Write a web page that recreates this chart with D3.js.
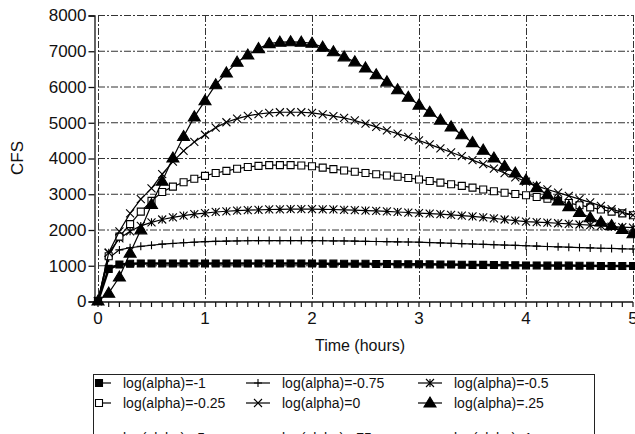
<!DOCTYPE html>
<html>
<head>
<meta charset="utf-8">
<script src="https://cdn.jsdelivr.net/npm/d3@7/dist/d3.min.js"></script>
<style>
  body { margin: 0; background: #fff; }
  svg { display: block; font-family: "Liberation Sans", Arial, sans-serif; }
</style>
</head>
<body>
<svg id="chart" width="635" height="434"></svg>
<script>
// time axis (hours)
const times = [0, 0.1, 0.2, 0.3, 0.4, 0.5, 0.6, 0.7, 0.8, 0.9, 1.0,
  1.1, 1.2, 1.3, 1.4, 1.5, 1.6, 1.7, 1.8, 1.9, 2.0,
  2.1, 2.2, 2.3, 2.4, 2.5, 2.6, 2.7, 2.8, 2.9, 3.0,
  3.1, 3.2, 3.3, 3.4, 3.5, 3.6, 3.7, 3.8, 3.9, 4.0,
  4.1, 4.2, 4.3, 4.4, 4.5, 4.6, 4.7, 4.8, 4.9, 5.0];

// flows (CFS)
const flowM100 = [0, 900, 1020, 1040, 1050, 1050, 1050, 1050, 1050, 1050, 1050,
  1050, 1050, 1050, 1050, 1050, 1050, 1050, 1050, 1050, 1050,
  1045, 1045, 1040, 1040, 1040, 1035, 1035, 1030, 1030, 1030,
  1025, 1020, 1020, 1015, 1010, 1010, 1005, 1000, 1000, 995,
  995, 990, 990, 990, 985, 985, 980, 980, 980, 980];
const flowM075 = [0, 1200, 1430, 1490, 1530, 1560, 1590, 1610, 1630, 1645, 1660,
  1670, 1675, 1680, 1685, 1690, 1690, 1690, 1690, 1690, 1690,
  1685, 1680, 1680, 1675, 1670, 1665, 1660, 1655, 1650, 1645,
  1635, 1625, 1615, 1605, 1595, 1585, 1575, 1565, 1555, 1545,
  1535, 1525, 1515, 1505, 1495, 1485, 1475, 1470, 1460, 1455];
const flowM050 = [0, 1350, 1750, 1950, 2100, 2200, 2280, 2340, 2390, 2430, 2460,
  2490, 2510, 2530, 2540, 2550, 2560, 2565, 2570, 2570, 2570,
  2565, 2560, 2550, 2540, 2530, 2520, 2505, 2490, 2475, 2460,
  2445, 2430, 2410, 2390, 2365, 2340, 2310, 2280, 2250, 2220,
  2205, 2190, 2175, 2160, 2140, 2120, 2100, 2080, 2065, 2050];
const flowM025 = [0, 1250, 1800, 2150, 2500, 2800, 3050, 3200, 3320, 3420, 3500,
  3580, 3640, 3700, 3750, 3780, 3800, 3800, 3800, 3790, 3770,
  3730, 3690, 3650, 3615, 3580, 3545, 3510, 3475, 3440, 3400,
  3355, 3310, 3265, 3220, 3170, 3120, 3070, 3030, 2995, 2960,
  2910, 2860, 2800, 2740, 2680, 2620, 2560, 2500, 2450, 2400];
const flowP000 = [0, 1350, 1950, 2450, 2850, 3150, 3550, 3900, 4200, 4450, 4650,
  4850, 5000, 5100, 5180, 5230, 5260, 5280, 5280, 5280, 5260,
  5220, 5170, 5120, 5050, 4960, 4870, 4770, 4680, 4590, 4490,
  4380, 4270, 4160, 4050, 3940, 3830, 3700, 3580, 3460, 3340,
  3220, 3120, 3030, 2940, 2850, 2760, 2660, 2570, 2480, 2400];
const flowP025 = [0, 220, 670, 1340, 1990, 2700, 3350, 4000, 4600, 5150, 5600,
  6050, 6380, 6680, 6880, 7060, 7200, 7240, 7250, 7240, 7210,
  7100, 6970, 6830, 6690, 6520, 6330, 6130, 5910, 5700, 5480,
  5280, 5060, 4870, 4650, 4430, 4220, 4000, 3770, 3580, 3380,
  3170, 2970, 2800, 2640, 2480, 2330, 2210, 2110, 2000, 1880];

const seriesNames = ["log(alpha)=-1", "log(alpha)=-0.75", "log(alpha)=-0.5",
  "log(alpha)=-0.25", "log(alpha)=0", "log(alpha)=.25"];
const seriesMarkers = ["fsquare", "plus", "star", "osquare", "cross", "triangle"];
const seriesFlows = [flowM100, flowM075, flowM050, flowM025, flowP000, flowP025];

// third legend row, cut off by the bottom of the picture
const extraNames = ["log(alpha)=.5", "log(alpha)=.75", "log(alpha)=1"];
const extraMarkers = ["osquare", "fsquare", "plus"];

const yTicks = [0, 1000, 2000, 3000, 4000, 5000, 6000, 7000, 8000];
const xTicks = [0, 1, 2, 3, 4, 5];
const xMinorTicks = d3.range(0, 51).map(i => i / 10);

const svg = d3.select("#chart");

// scales
const x = d3.scaleLinear().domain([0, 5]).range([98, 633]);
const y = d3.scaleLinear().domain([0, 8000]).range([301, 15]);

// grid
const grid = svg.append("g").attr("stroke", "#333").attr("stroke-width", 1)
  .attr("stroke-dasharray", "7,2,2,2");
grid.selectAll(".hg").data(yTicks.slice(1)).enter().append("line")
  .attr("x1", x(0)).attr("x2", x(5))
  .attr("y1", d => y(d) + 0.5).attr("y2", d => y(d) + 0.5);
grid.selectAll(".vg").data(xTicks).enter().append("line")
  .attr("y1", y(8000)).attr("y2", y(0))
  .attr("x1", d => x(d) + 0.5).attr("x2", d => x(d) + 0.5);

// y-axis
const yAxis = d3.axisLeft(y).tickValues(yTicks).tickSize(6).tickPadding(2)
  .tickFormat(d3.format("d"));
const yAxisG = svg.append("g").attr("transform", "translate(94.5,0.5)").call(yAxis);
yAxisG.select(".domain").attr("stroke", "#111").attr("stroke-width", 1.3);
yAxisG.selectAll(".tick line").attr("stroke", "#111").attr("stroke-width", 1.3);
yAxisG.selectAll(".tick text").attr("fill", "#111")
  .style("font-size", "17px").style("font-family", "Liberation Sans, Arial, sans-serif");

// x-axis
const xAxisG = svg.append("g").attr("transform", `translate(0,${y(0) + 1})`);
xAxisG.append("line").attr("x1", 94).attr("x2", x(5)).attr("stroke", "#111").attr("stroke-width", 1.3);
xAxisG.selectAll(".mt").data(xMinorTicks).enter().append("line")
  .attr("x1", d => x(d)).attr("x2", d => x(d)).attr("y1", 0).attr("y2", 5)
  .attr("stroke", "#111").attr("stroke-width", 1.2);
xAxisG.selectAll(".xl").data(xTicks).enter().append("text")
  .attr("x", d => x(d)).attr("y", 22).attr("text-anchor", "middle")
  .style("font-size", "17px").attr("fill", "#111").text(d => d);

svg.append("text").attr("x", 360).attr("y", 351).attr("text-anchor", "middle")
  .style("font-size", "16px").attr("fill", "#111").text("Time (hours)");
svg.append("text").attr("transform", "translate(23,158) rotate(-90)")
  .attr("text-anchor", "middle").style("font-size", "17px").attr("fill", "#111").text("CFS");

// marker paths
const markerPath = (type, cx, cy) => {
  const s = 4;
  if (type === "plus") return `M${cx - s},${cy}H${cx + s}M${cx},${cy - s}V${cy + s}`;
  if (type === "cross") return `M${cx - s},${cy - s}L${cx + s},${cy + s}M${cx - s},${cy + s}L${cx + s},${cy - s}`;
  if (type === "star") return `M${cx - s},${cy - s}L${cx + s},${cy + s}M${cx - s},${cy + s}L${cx + s},${cy - s}M${cx},${cy - s}V${cy + s}`;
  if (type === "triangle") return `M${cx},${cy - 6}L${cx + 6},${cy + 4}L${cx - 6},${cy + 4}Z`;
  return `M${cx - 3.5},${cy - 3.5}h7v7h-7Z`;
};
const markerFill = type => (type === "fsquare" || type === "triangle") ? "#000" : type === "osquare" ? "#fff" : "none";

const line = d3.line().x(d => x(d[0])).y(d => y(d[1]));

// series
const plot = svg.append("g");
seriesFlows.forEach((flows, i) => {
  const pts = times.map((t, j) => [t, flows[j]]);
  const g = plot.append("g");
  g.append("path").datum(pts).attr("d", line).attr("fill", "none")
    .attr("stroke", "#000").attr("stroke-width", i === 0 ? 2.5 : 1.2);
  g.selectAll("path.m").data(pts).enter().append("path").attr("class", "m")
    .attr("d", d => markerPath(seriesMarkers[i], x(d[0]), y(d[1])))
    .attr("fill", markerFill(seriesMarkers[i]))
    .attr("stroke", "#000").attr("stroke-width", 1.1);
});

// legend
const legend = svg.append("g");
legend.append("rect").attr("x", 93.5).attr("y", 374.5).attr("width", 501).attr("height", 80)
  .attr("fill", "none").attr("stroke", "#222").attr("stroke-width", 1);
const colX = [123, 282, 454];
const rowY = [383, 403, 438];
const entries = seriesNames.map((n, i) => ({ name: n, marker: seriesMarkers[i] }))
  .concat(extraNames.map((n, i) => ({ name: n, marker: extraMarkers[i] })));
entries.forEach((e, i) => {
  const cx = colX[i % 3] - 24;
  const cy = rowY[Math.floor(i / 3)];
  legend.append("line").attr("x1", Math.max(cx - 12, 95)).attr("x2", cx + 12)
    .attr("y1", cy).attr("y2", cy).attr("stroke", "#000").attr("stroke-width", 1.2);
  legend.append("path").attr("d", markerPath(e.marker, cx, cy))
    .attr("fill", markerFill(e.marker)).attr("stroke", "#000").attr("stroke-width", 1.1);
  legend.append("text").attr("x", colX[i % 3]).attr("y", cy + 5)
    .style("font-size", "14px").attr("fill", "#111").text(e.name);
});
</script>
</body>
</html>
